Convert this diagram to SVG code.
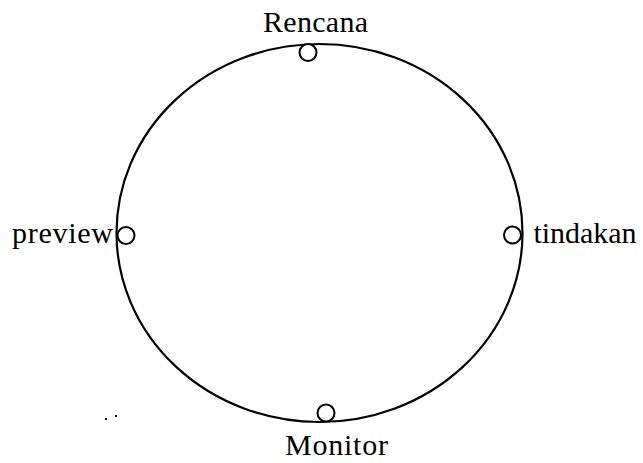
<svg xmlns="http://www.w3.org/2000/svg" width="643" height="463" viewBox="0 0 643 463">
<style>
.ring{fill:none;stroke:#000;stroke-width:2.2}
.port{fill:#fff;stroke:#000;stroke-width:2}
.lbl{font-family:"Liberation Serif","Times New Roman",serif;font-size:30px;fill:#000}
</style>
<rect width="643" height="463" fill="#fff"/>
<g id="connectors">
<ellipse class="ring" cx="319.5" cy="233" rx="203" ry="189"/>
</g>
<g id="rencana">
<circle class="port" cx="308" cy="52.5" r="8.5"/>
<text class="lbl" x="315.5" y="32" text-anchor="middle" textLength="105">Rencana</text>
</g>
<g id="preview">
<circle class="port" cx="126" cy="235.5" r="8.5"/>
<text class="lbl" x="12" y="243" textLength="101">preview</text>
</g>
<g id="tindakan">
<circle class="port" cx="512.5" cy="235" r="8.5"/>
<text class="lbl" x="533.5" y="243" textLength="103">tindakan</text>
</g>
<g id="monitor">
<circle class="port" cx="326" cy="413" r="8.5"/>
<text class="lbl" x="336.5" y="455" text-anchor="middle" textLength="103">Monitor</text>
</g>
<g id="specks">
<rect x="105" y="418" width="2" height="2" fill="#000"/>
<rect x="115" y="415" width="2" height="2" fill="#000"/>
</g>
</svg>
